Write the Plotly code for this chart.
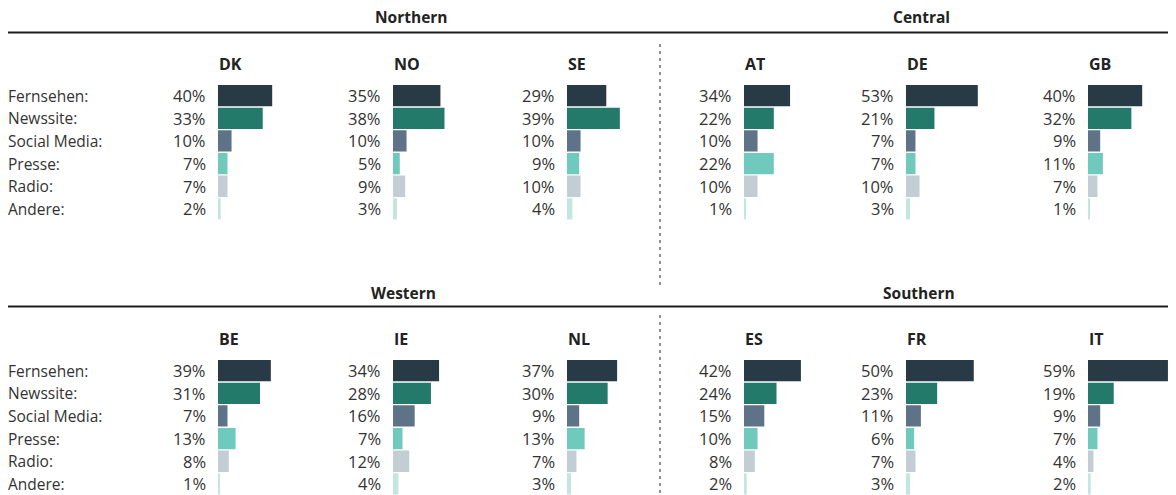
import plotly.graph_objects as go

W, H = 1176, 495
OFF = 8  # page body margin offset (reference pixel -> figure pixel)

categories = ["Fernsehen:", "Newssite:", "Social Media:", "Presse:", "Radio:", "Andere:"]
colors = ["#283a45", "#237a6b", "#5e7387", "#6fc9bd", "#c2ced4", "#c3e6e0"]

regions = ["Northern", "Central", "Western", "Southern"]
countries_top = ["DK", "NO", "SE", "AT", "DE", "GB"]
countries_bottom = ["BE", "IE", "NL", "ES", "FR", "IT"]

DK = [40, 33, 10, 7, 7, 2]
NO = [35, 38, 10, 5, 9, 3]
SE = [29, 39, 10, 9, 10, 4]
AT = [34, 22, 10, 22, 10, 1]
DE = [53, 21, 7, 7, 10, 3]
GB = [40, 32, 9, 11, 7, 1]
BE = [39, 31, 7, 13, 8, 1]
IE = [34, 28, 16, 7, 12, 4]
NL = [37, 30, 9, 13, 7, 3]
ES = [42, 24, 15, 10, 8, 2]
FR = [50, 23, 11, 6, 7, 3]
IT = [59, 19, 9, 7, 4, 2]

values = [DK, NO, SE, AT, DE, GB, BE, IE, NL, ES, FR, IT]
countries = countries_top + countries_bottom

# layout (reference pixels)
col_x = [218, 393, 567, 744, 906, 1088]
px_per_pct = 1.355
xmax = 60
rows_y = [(84.4, 220.2), (359.4, 495.2)]
country_label_y = [64, 339]
region_title = [(411.5, 16.5), (921, 16.5), (403.5, 293), (918.5, 293)]
rule_y = [32.5, 306.5]

FONT = "Open Sans, Noto Sans, DejaVu Sans, sans-serif"
TXT = "#333333"
clamp = lambda v: min(1.0, max(0.0, v))
px = lambda x: clamp((x - OFF) / W)
py = lambda y: clamp(1 - (y - OFF) / H)

fig = go.Figure()
annotations = []
layout_axes = {}

for i, (c, vals) in enumerate(zip(countries, values)):
    n = i + 1
    r = 0 if i < 6 else 1
    col = i % 6
    xa = "x" if n == 1 else f"x{n}"
    ya = "y" if n == 1 else f"y{n}"
    fig.add_trace(go.Bar(
        x=vals, y=categories, orientation="h",
        marker=dict(color=colors, line=dict(width=0)),
        xaxis=xa, yaxis=ya, hoverinfo="skip", showlegend=False,
    ))
    x0 = col_x[col]
    layout_axes["xaxis" if n == 1 else f"xaxis{n}"] = dict(
        domain=[px(x0), px(x0 + px_per_pct * xmax)], range=[0, xmax],
        visible=False, fixedrange=True, anchor=ya,
    )
    ytop, ybot = rows_y[r]
    layout_axes["yaxis" if n == 1 else f"yaxis{n}"] = dict(
        domain=[py(ybot), py(ytop)], range=[5.5, -0.5],
        categoryorder="array", categoryarray=categories,
        visible=False, fixedrange=True, anchor=xa,
    )
    # percent labels
    for cat, v in zip(categories, vals):
        annotations.append(dict(
            xref=xa, yref=ya, x=0, y=cat, text=f"{v}%", showarrow=False,
            xanchor="right", yanchor="middle", xshift=-10,
            font=dict(family=FONT, size=16.5, color=TXT),
        ))
    # country label
    annotations.append(dict(
        xref=xa, yref="paper", x=0, y=py(country_label_y[r]), text=f"<b>{c}</b>",
        showarrow=False, xanchor="left", yanchor="middle", xshift=-1,
        font=dict(family=FONT, size=16, color="#222222"),
    ))

# category labels
for r, ya in enumerate(["y", "y7"]):
    for cat in categories:
        annotations.append(dict(
            xref="paper", yref=ya, x=0, y=cat, text=cat, showarrow=False,
            xanchor="left", yanchor="middle", xshift=-2,
            font=dict(family=FONT, size=15.5, color=TXT),
        ))

# region titles
for name, (cx, cy) in zip(regions, region_title):
    annotations.append(dict(
        xref="paper", yref="paper", x=px(cx), y=py(cy), text=f"<b>{name}</b>",
        showarrow=False, xanchor="center", yanchor="middle", borderpad=0,
        font=dict(family=FONT, size=15.5, color="#222222"),
    ))

shapes = []
for yy in rule_y:
    shapes.append(dict(type="line", xref="paper", yref="paper",
                       x0=px(8), x1=px(1169), y0=py(yy), y1=py(yy),
                       line=dict(color="#1e1e1e", width=2)))
for (y0, y1) in [(44, 289), (315, 496)]:
    shapes.append(dict(type="line", xref="paper", yref="paper",
                       x0=px(660), x1=px(660), y0=py(y0), y1=py(y1),
                       line=dict(color="#555555", width=1.3, dash="3px,4px")))

fig.update_layout(
    width=W, height=H, margin=dict(l=0, r=0, t=0, b=0),
    paper_bgcolor="white", plot_bgcolor="white",
    bargap=0.06, showlegend=False,
    annotations=annotations, shapes=shapes,
    **layout_axes,
)

fig.write_html("out.html", config={"displayModeBar": False})
